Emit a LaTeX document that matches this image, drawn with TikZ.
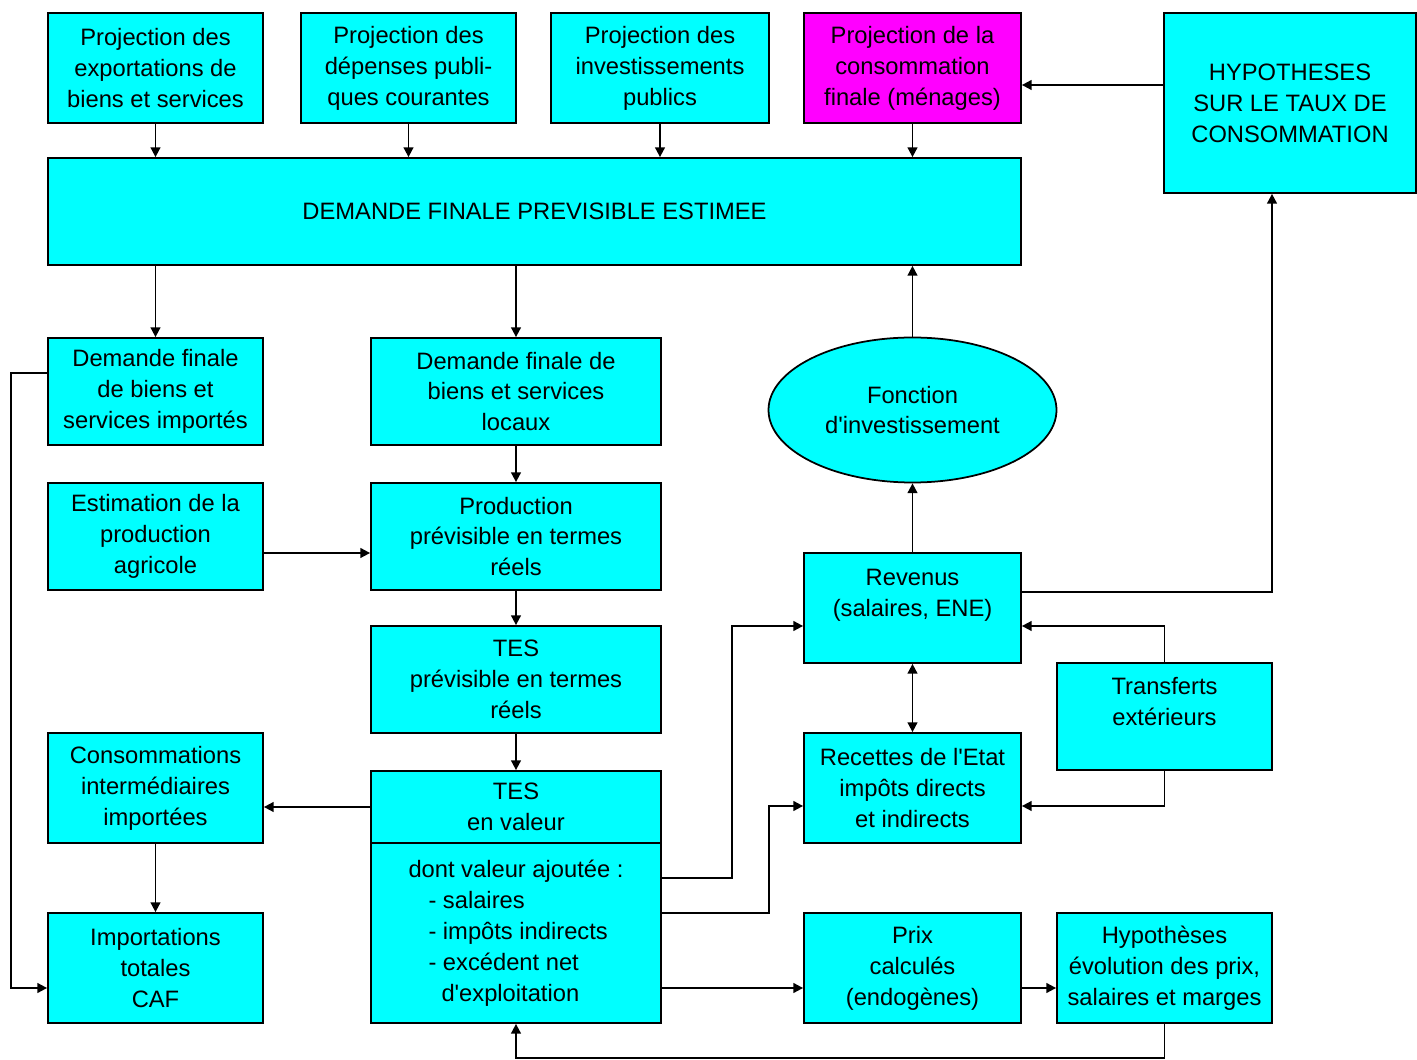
\documentclass[tikz,border=0pt]{standalone}
\usepackage{fontspec}
\setmainfont{Liberation Sans}
\usetikzlibrary{positioning,arrows.meta,shapes.geometric}
\definecolor{boxcyan}{RGB}{0,255,255}
\definecolor{boxmagenta}{RGB}{255,0,255}

\begin{document}
\begin{tikzpicture}[box/.style={rectangle, draw, fill=boxcyan, align=center, inner sep=2pt, font=\fontsize{13.5}{17.6}\selectfont},
	small/.style={box, minimum width=4.3cm, minimum height=2.2cm},
	mid/.style={box, minimum width=5.8cm, minimum height=2.14cm},
	>={Triangle[length=5.5pt,width=5.5pt]}, line width=1pt]
	\useasboundingbox (0,0) rectangle (28.34,-21.2);
        \node at (3.11,-1.36) [small] (pexp) {Projection des\\exportations de\\biens et services};
        \node at (8.17,-1.36) [small] (pdep) {Projection des\\dépenses publi-\\ques courantes};
        \node at (13.2,-1.36) [small, minimum width=4.36cm] (pinv) {Projection des\\investissements\\publics};
        \node at (18.25,-1.36) [small, minimum width=4.34cm, fill=boxmagenta] (pcons) {Projection de la\\consommation\\finale (ménages)};
        \node at (25.8,-2.06) [box, minimum width=5.04cm, minimum height=3.6cm] (hyptaux) {HYPOTHESES\\SUR LE TAUX DE\\CONSOMMATION};
        \node at (10.69,-4.23) [box, minimum width=19.46cm, minimum height=2.14cm] (dfin) {DEMANDE FINALE PREVISIBLE ESTIMEE};
        \node at (3.11,-7.83) [small, minimum height=2.14cm] (dimp) {Demande finale\\de biens et\\services importés};
        \node at (10.32,-7.83) [mid] (dloc) {Demande finale de\\biens et services\\locaux};
        \node at (18.25,-8.2) [box, ellipse, minimum width=5.76cm, minimum height=2.9cm] (finv) {Fonction\\d\textquotesingle investissement};
        \node at (3.11,-10.73) [small, minimum height=2.14cm] (agri) {Estimation de la\\production\\agricole};
        \node at (10.32,-10.73) [mid] (prod) {Production\\prévisible en termes\\réels};
        \node at (18.25,-12.16) [small, minimum width=4.34cm] (rev) {Revenus\\(salaires, ENE)\\~};
        \node at (10.32,-13.59) [mid] (tesr) {TES\\prévisible en termes\\réels};
        \node at (23.29,-14.33) [small, minimum height=2.14cm] (transf) {Transferts\\extérieurs\\~};
        \node at (3.11,-15.76) [small] (cimp) {Consommations\\intermédiaires\\importées};
        \node at (18.25,-15.76) [small, minimum width=4.34cm] (etat) {Recettes de l\textquotesingle Etat\\impôts directs\\et indirects};
        \node at (10.32,-16.14) [mid, minimum height=1.44cm] (tesv) {TES\\en valeur};
        \node at (10.32,-18.66) [mid, minimum height=3.6cm, align=left] (vaj) {dont valeur ajoutée :\\\hspace*{0.4cm}- salaires\\\hspace*{0.4cm}- impôts indirects\\\hspace*{0.4cm}- excédent net\\\hspace*{0.66cm}d\textquotesingle exploitation};
        \node at (3.11,-19.36) [small] (imptot) {Importations\\totales\\CAF};
        \node at (18.25,-19.36) [small, minimum width=4.34cm] (prix) {Prix\\calculés\\(endogènes)};
        \node at (23.29,-19.36) [small] (hypprix) {Hypothèses\\évolution des prix,\\salaires et marges};
        % vers la demande finale
        \draw [->](pexp.south) -- (pexp.south |- dfin.north);
        \draw [->](pdep.south) -- (pdep.south |- dfin.north);
        \draw [->](pinv.south) -- (pinv.south |- dfin.north);
        \draw [->](pcons.south) -- (pcons.south |- dfin.north);
        \draw [->]([yshift=3.6mm]hyptaux.west) -- ([yshift=3.6mm]hyptaux.west -| pcons.east);
        \draw [->](finv.north) -- (finv.north |- dfin.south);
        \draw [->](rev.north) -- (finv.south);
        \draw [->]([yshift=3.2mm]rev.east) -| ([xshift=-3.6mm]hyptaux.south);
        % demande et production
        \draw [->](dimp.north |- dfin.south) -- (dimp.north);
        \draw [->](dloc.north |- dfin.south) -- (dloc.north);
        \draw [->](dloc) -- (prod);
        \draw [->]([yshift=-3.3mm]agri.east) -- ([yshift=-3.3mm]agri.east -| prod.west);
        \draw [->](prod) -- (tesr);
        \draw [->](tesr) -- (tesv);
        \draw [->](tesv.west) -- (tesv.west -| cimp.east);
        \draw [->](cimp) -- (imptot);
        \draw [->]([yshift=3.7mm]dimp.west) -- ++(-0.72,0) |- ([yshift=-4mm]imptot.west);
        % valeur ajoutee, revenus et prix
        \draw [->]([yshift=11mm]vaj.east) -- ++(1.4,0) |- ([yshift=-3.6mm]rev.west);
        \draw [->]([yshift=4mm]vaj.east) -- ++(2.14,0) |- ([yshift=-3.6mm]etat.west);
        \draw [->]([yshift=-4mm]prix.west -| vaj.east) -- ([yshift=-4mm]prix.west);
        \draw [->]([yshift=-4mm]prix.east) -- ([yshift=-4mm]hypprix.west);
        \draw [->](hypprix.south) -- ++(0,-0.68) -| (vaj.south);
        \draw [<->](rev) -- (etat);
        \draw [->](transf.north) |- ([yshift=-3.6mm]rev.east);
        \draw [->](transf.south) |- ([yshift=-3.6mm]etat.east);
    \end{tikzpicture}
\end{document}
